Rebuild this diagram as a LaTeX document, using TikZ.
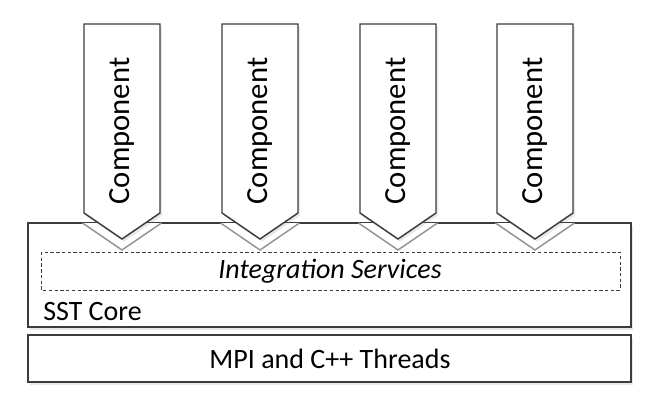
\documentclass[tikz,border=0pt]{standalone}
\usepackage{fontspec}
\setmainfont{Carlito}
\usetikzlibrary{shadows}
\definecolor{linegray}{HTML}{3C3C3C}
\tikzset{
  layer/.style={draw=linegray, line width=1.1pt, fill=white,
    drop shadow={opacity=0.18, shadow xshift=1.5pt, shadow yshift=-2pt}},
  svcbox/.style={draw=linegray, line width=0.7pt, dash pattern=on 2.5pt off 1.8pt},
  halo/.style={draw=gray!85, line width=1.1pt, fill=white},
  lbl/.style={font=\fontsize{21}{25}\selectfont, text=black}
}
\begin{document}
\begin{tikzpicture}[x=0.75pt,y=-0.75pt]
\useasboundingbox (0,0) rectangle (654,403);
%SST core
\draw[layer] (28,223) rectangle (631,327);
\node[lbl, anchor=base west, inner sep=0pt] (core) at (43,320) {SST Core};
%integration services
\draw[svcbox] (41,252) rectangle (620,290);
\node[lbl, font=\fontsize{21}{25}\selectfont\itshape] (svc) at (330,271) {Integration Services};
%MPI and threads
\draw[layer] (28,335) rectangle (631,382);
\node[lbl] (mpi) at (330,358.5) {MPI and C++ Threads};
%components
\foreach \x [count=\n] in {122,260,398,535}{
  \draw[halo] (\x-39.5,223) -- (\x,250) -- (\x+39.5,223);
  \draw[layer] (\x-38,24) -- (\x+38,24) -- (\x+38,213) -- (\x,239) -- (\x-38,213) -- cycle;
  \node[lbl, rotate=90, font=\fontsize{23}{27}\selectfont] (comp\n) at (\x,131) {Component};
}
\end{tikzpicture}
\end{document}
